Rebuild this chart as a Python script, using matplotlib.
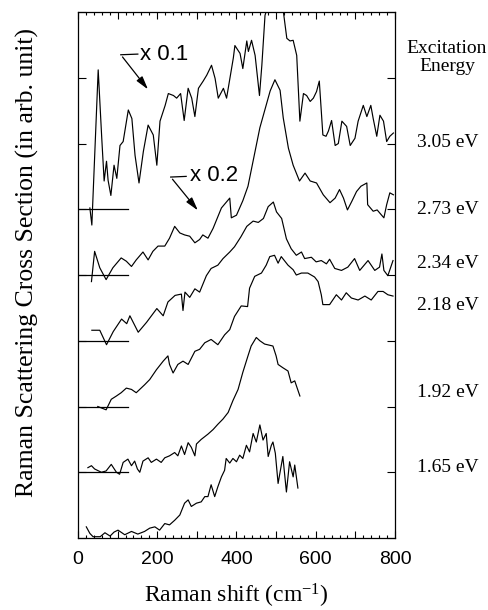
import matplotlib
matplotlib.use("Agg")
import matplotlib.pyplot as plt
from matplotlib.ticker import MultipleLocator, FuncFormatter

serif = "Liberation Serif"
sans = "Liberation Sans"
plt.rcParams["mathtext.fontset"] = "custom"
plt.rcParams["mathtext.rm"] = serif
plt.rcParams["mathtext.it"] = serif + ":italic"

# spectra: Raman shift (cm-1) and intensity above own baseline (one unit = one offset step)
x_305 = [30, 35, 51, 60, 66, 72, 76, 83, 91, 98, 106, 114, 127, 136, 144, 154, 165, 177, 190, 199,
         207, 220, 228, 241, 249, 259, 268, 278, 287, 295, 304, 316, 325, 337, 346, 354, 367, 375,
         392, 396, 409, 416, 426, 430, 438, 447, 458, 464, 472, 497, 518, 527, 535, 543, 552, 560,
         569, 577, 586, 594, 602, 609, 618, 626, 632, 640, 649, 657, 666, 678, 687, 699, 707, 720,
         729, 739, 745, 754, 762, 771, 779, 787, 796]
y_305 = [0.02, -0.24, 2.12, 1.08, 0.43, 0.73, 0.44, 0.21, 0.67, 0.47, 0.97, 1.03, 1.51, 1.38, 0.82,
         0.40, 0.88, 1.28, 1.13, 0.67, 1.34, 1.58, 1.76, 1.73, 1.69, 1.76, 1.35, 1.84, 1.69, 1.41,
         1.84, 1.95, 2.04, 2.19, 1.99, 1.69, 1.84, 1.69, 2.30, 2.49, 2.37, 2.14, 2.56, 2.40, 2.57,
         2.34, 1.73, 2.19, 2.95, 3.44, 3.02, 2.60, 2.56, 2.57, 2.34, 1.34, 1.76, 1.73, 1.64, 1.69,
         1.79, 1.95, 1.13, 1.11, 1.19, 1.35, 0.97, 1.00, 1.34, 1.26, 0.97, 1.08, 1.34, 1.58, 1.41,
         1.58, 1.38, 1.11, 1.43, 1.34, 1.03, 1.11, 1.16]

x_273 = [34, 42, 55, 71, 88, 109, 122, 135, 147, 164, 177, 189, 202, 219, 231, 244, 257, 269, 282,
         295, 307, 315, 328, 341, 362, 383, 387, 400, 416, 429, 459, 485, 497, 510, 518, 531, 543,
         559, 573, 586, 602, 619, 636, 649, 660, 670, 680, 691, 703, 714, 729, 731, 745, 755, 762,
         772, 779, 787, 796]
y_273 = [-0.10, 0.36, 0.11, -0.07, 0.11, 0.26, 0.21, 0.13, 0.23, 0.35, 0.23, 0.36, 0.44, 0.44, 0.56,
         0.74, 0.64, 0.61, 0.59, 0.49, 0.54, 0.61, 0.56, 0.71, 1.02, 1.17, 0.87, 0.91, 1.13, 1.35,
         2.24, 2.80, 2.97, 2.81, 2.39, 1.93, 1.67, 1.43, 1.55, 1.43, 1.40, 1.22, 1.10, 1.17, 1.30,
         1.17, 0.99, 1.12, 1.27, 1.35, 1.40, 1.07, 0.97, 0.99, 0.94, 0.87, 1.07, 1.25, 1.22]

x_234 = [35, 55, 72, 89, 110, 123, 131, 152, 173, 199, 215, 227, 245, 261, 265, 270, 282, 295, 307,
         324, 336, 353, 366, 383, 395, 411, 426, 442, 455, 468, 480, 493, 501, 514, 526, 538, 551,
         564, 572, 589, 601, 614, 627, 635, 648, 665, 681, 698, 711, 732, 749, 761, 767, 772, 782, 795]
y_234 = [0.16, 0.16, -0.06, 0.14, 0.33, 0.26, 0.38, 0.13, 0.28, 0.49, 0.38, 0.59, 0.69, 0.71, 0.46,
         0.74, 0.66, 0.79, 0.74, 0.99, 1.10, 1.15, 1.25, 1.35, 1.43, 1.58, 1.74, 1.82, 1.80, 1.86,
         2.04, 2.11, 1.96, 1.86, 1.55, 1.40, 1.30, 1.35, 1.25, 1.27, 1.20, 1.22, 1.17, 1.24, 1.10,
         1.07, 1.12, 1.25, 1.07, 1.22, 1.07, 1.12, 1.32, 1.07, 0.99, 1.22]

x_218 = [50, 71, 84, 97, 109, 122, 135, 147, 168, 181, 198, 215, 227, 231, 240, 252, 265, 278, 295,
         307, 320, 336, 353, 370, 383, 395, 412, 428, 433, 446, 463, 475, 484, 496, 505, 513, 530,
         543, 551, 564, 580, 597, 606, 614, 618, 635, 652, 665, 677, 690, 707, 724, 740, 757, 770,
         782, 795]
y_218 = [0.00, -0.05, 0.11, 0.16, 0.21, 0.28, 0.26, 0.21, 0.33, 0.41, 0.56, 0.69, 0.77, 0.64, 0.51,
         0.64, 0.69, 0.64, 0.84, 0.87, 0.97, 1.02, 0.94, 1.09, 1.17, 1.37, 1.53, 1.52, 1.80, 1.98,
         2.03, 2.15, 2.28, 2.30, 2.18, 2.28, 2.15, 2.08, 2.00, 2.03, 2.03, 1.97, 1.90, 1.70, 1.55,
         1.55, 1.70, 1.62, 1.73, 1.65, 1.62, 1.68, 1.62, 1.75, 1.75, 1.70, 1.68]

x_192 = [25, 34, 42, 59, 71, 84, 97, 105, 114, 126, 135, 143, 150, 156, 164, 177, 185, 198, 210,
         219, 231, 244, 252, 261, 269, 278, 286, 295, 299, 311, 328, 341, 353, 366, 379, 391, 404,
         416, 429, 437, 450, 459, 471, 492, 500, 505, 517, 530, 538, 547, 560]
y_192 = [0.07, 0.10, 0.05, 0.00, 0.02, 0.12, 0.00, -0.03, 0.15, 0.20, 0.10, 0.17, 0.05, 0.00, 0.17,
         0.22, 0.15, 0.20, 0.15, 0.22, 0.25, 0.30, 0.25, 0.40, 0.27, 0.45, 0.38, 0.25, 0.43, 0.50,
         0.58, 0.65, 0.73, 0.81, 0.91, 1.09, 1.26, 1.52, 1.77, 1.92, 2.05, 2.00, 1.95, 1.92, 1.77,
         1.64, 1.59, 1.54, 1.36, 1.39, 1.16]

x_165 = [21, 30, 38, 56, 68, 81, 91, 101, 118, 135, 151, 168, 181, 194, 206, 219, 231, 244, 257,
         269, 278, 286, 299, 311, 320, 328, 336, 345, 353, 362, 370, 374, 383, 391, 400, 408, 416,
         425, 433, 442, 450, 459, 467, 475, 480, 488, 492, 498, 505, 517, 526, 534, 543, 547, 555]
y_165 = [0.17, 0.07, 0.02, 0.02, 0.08, 0.03, 0.09, 0.12, 0.05, 0.10, 0.06, 0.10, 0.15, 0.17, 0.12,
         0.22, 0.20, 0.27, 0.35, 0.53, 0.58, 0.48, 0.53, 0.55, 0.63, 0.63, 0.81, 0.63, 0.78, 0.93,
         1.03, 1.21, 1.14, 1.21, 1.16, 1.26, 1.21, 1.41, 1.31, 1.59, 1.46, 1.72, 1.49, 1.59, 1.24,
         1.41, 1.46, 1.29, 0.83, 1.24, 0.70, 1.16, 0.93, 1.11, 0.76]

xs = [x_305, x_273, x_234, x_218, x_192, x_165]
ys = [y_305, y_273, y_234, y_218, y_192, y_165]
offsets = [5, 4, 3, 2, 1, 0]
energy_labels = ["3.05 eV", "2.73 eV", "2.34 eV", "2.18 eV", "1.92 eV", "1.65 eV"]
label_y = [6.01, 4.99, 4.17, 3.54, 2.21, 1.08]
baseline_end = 125

fig = plt.figure(figsize=(4.88, 6.1), dpi=100)
ax = fig.add_axes([0.1598, 0.118, 0.6496, 0.8623])

for x, y, off in zip(xs, ys, offsets):
    ax.plot(x, [v + off for v in y], color="black", lw=0.85)
    if off > 0:
        ax.plot([0, baseline_end], [off, off], color="black", lw=0.9)

ax.set_xlim(0, 800)
ax.set_ylim(0, 8)

ax.xaxis.set_major_locator(MultipleLocator(100))
ax.xaxis.set_minor_locator(MultipleLocator(20))
ax.xaxis.set_major_formatter(FuncFormatter(lambda v, p: f"{int(v)}" if int(v) % 200 == 0 else ""))
ax.yaxis.set_major_locator(MultipleLocator(1))
ax.tick_params(axis="x", which="major", direction="in", top=True, length=5, width=0.8,
               labelsize=14, pad=9)
ax.tick_params(axis="x", which="minor", direction="in", top=True, length=2.5, width=0.8)
ax.tick_params(axis="y", which="major", direction="in", right=True, length=6, width=0.8,
               labelleft=False)
for lab in ax.get_xticklabels():
    lab.set_fontfamily(sans)
for s in ax.spines.values():
    s.set_linewidth(0.9)

ax.set_xlabel("Raman shift (cm$^{\\mathrm{-1}}$)", fontfamily=serif, fontsize=17)
ax.xaxis.set_label_coords(0.5, -0.083)
ax.set_ylabel("Raman Scattering Cross Section (in arb. unit)", fontfamily=serif, fontsize=18.5)
ax.yaxis.set_label_coords(-0.122, 0.523)

for lab, yy in zip(energy_labels, label_y):
    ax.text(856, yy, lab, fontfamily=serif, fontsize=14, ha="left", va="center", clip_on=False)
ax.text(931, 7.31, "Excitation\nEnergy", fontfamily=serif, fontsize=14, ha="center",
        va="center", multialignment="center", linespacing=1.1, clip_on=False)

# scale markers with arrows
arrow_style = dict(arrowstyle="-|>,head_length=0.8,head_width=0.22", color="black", lw=0.9)
ax.text(156, 7.35, "x 0.1", fontfamily=sans, fontsize=16, ha="left", va="center")
ax.plot([151, 108], [7.36, 7.35], color="black", lw=0.9)
ax.annotate("", xy=(181, 6.79), xytext=(108, 7.35), arrowprops=arrow_style)
ax.text(283, 5.52, "x 0.2", fontfamily=sans, fontsize=16, ha="left", va="center")
ax.plot([273, 234], [5.50, 5.49], color="black", lw=0.9)
ax.annotate("", xy=(307, 4.95), xytext=(234, 5.49), arrowprops=arrow_style)

fig.savefig("out.png", dpi=100)
